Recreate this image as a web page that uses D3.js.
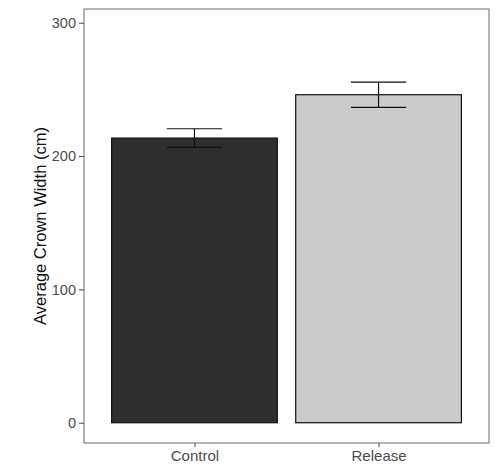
<!DOCTYPE html>
<html>
<head>
<meta charset="utf-8">
<script src="https://cdn.jsdelivr.net/npm/d3@7"></script>
<style>
  body { margin: 0; background: #fff; }
  text { font-family: "Liberation Sans", Arial, sans-serif; }
</style>
</head>
<body>
<div id="chart"></div>
<script>
"use strict";

// data
var categories = ["Control", "Release"];
var means = [213.5, 246];
var errLow = [206.5, 236.5];
var errHigh = [220.5, 255.5];
var barColors = ["#2e2e2e", "#cbcbcb"];
var yTicks = [0, 100, 200, 300];

var width = 504, height = 465;
var panel = { left: 84, right: 489, top: 9, bottom: 443 };

var svg = d3.select("#chart")
  .append("svg")
  .attr("width", width)
  .attr("height", height);

// ggplot-like discrete axis: 0.6 unit padding each side, bars 0.9 wide
var x = d3.scaleLinear()
  .domain([0.4, 2.6])
  .range([panel.left, panel.right]);

var y = d3.scaleLinear()
  .domain([-15.2, 310.3])
  .range([panel.bottom, panel.top]);

var rows = categories.map(function(c, i) {
  return { cat: c, pos: i + 1, mean: means[i], lo: errLow[i], hi: errHigh[i], color: barColors[i] };
});

// bars
svg.append("g")
  .selectAll("rect")
  .data(rows)
  .enter()
  .append("rect")
    .attr("x", function(d) { return x(d.pos - 0.45); })
    .attr("width", function(d) { return x(d.pos + 0.45) - x(d.pos - 0.45); })
    .attr("y", function(d) { return y(d.mean); })
    .attr("height", function(d) { return y(0) - y(d.mean); })
    .attr("fill", function(d) { return d.color; })
    .attr("stroke", "#111")
    .attr("stroke-width", 1.2);

// error bars
var errG = svg.append("g")
  .selectAll("g")
  .data(rows)
  .enter()
  .append("g")
    .attr("stroke", "#111")
    .attr("stroke-width", 1.2);

errG.append("line")
  .attr("x1", function(d) { return x(d.pos); })
  .attr("x2", function(d) { return x(d.pos); })
  .attr("y1", function(d) { return y(d.lo); })
  .attr("y2", function(d) { return y(d.hi); });

errG.append("line")
  .attr("x1", function(d) { return x(d.pos - 0.15); })
  .attr("x2", function(d) { return x(d.pos + 0.15); })
  .attr("y1", function(d) { return y(d.hi); })
  .attr("y2", function(d) { return y(d.hi); });

errG.append("line")
  .attr("x1", function(d) { return x(d.pos - 0.15); })
  .attr("x2", function(d) { return x(d.pos + 0.15); })
  .attr("y1", function(d) { return y(d.lo); })
  .attr("y2", function(d) { return y(d.lo); });

// panel border
svg.append("rect")
  .attr("x", panel.left)
  .attr("y", panel.top)
  .attr("width", panel.right - panel.left)
  .attr("height", panel.bottom - panel.top)
  .attr("fill", "none")
  .attr("stroke", "#6b6b6b")
  .attr("stroke-width", 1);

// y axis
var yAxis = svg.append("g")
  .attr("transform", "translate(" + panel.left + ",0)")
  .call(d3.axisLeft(y).tickValues(yTicks).tickSize(5).tickPadding(3));
yAxis.select(".domain").remove();
yAxis.selectAll(".tick line").attr("stroke", "#444");
yAxis.selectAll(".tick text")
  .attr("fill", "#4d4d4d")
  .style("font-size", "14.5px");

// x axis
var xAxis = svg.append("g")
  .attr("transform", "translate(0," + panel.bottom + ")")
  .call(d3.axisBottom(x).tickValues([1, 2]).tickSize(4).tickPadding(3)
    .tickFormat(function(d) { return categories[d - 1]; }));
xAxis.select(".domain").remove();
xAxis.selectAll(".tick line").attr("stroke", "#444");
xAxis.selectAll(".tick text")
  .attr("fill", "#4d4d4d")
  .style("font-size", "15px");

// y axis title
svg.append("text")
  .attr("transform", "translate(46," + ((panel.top + panel.bottom) / 2) + ") rotate(-90)")
  .attr("text-anchor", "middle")
  .attr("fill", "#111")
  .style("font-size", "16.5px")
  .text("Average Crown Width (cm)");
</script>
</body>
</html>
